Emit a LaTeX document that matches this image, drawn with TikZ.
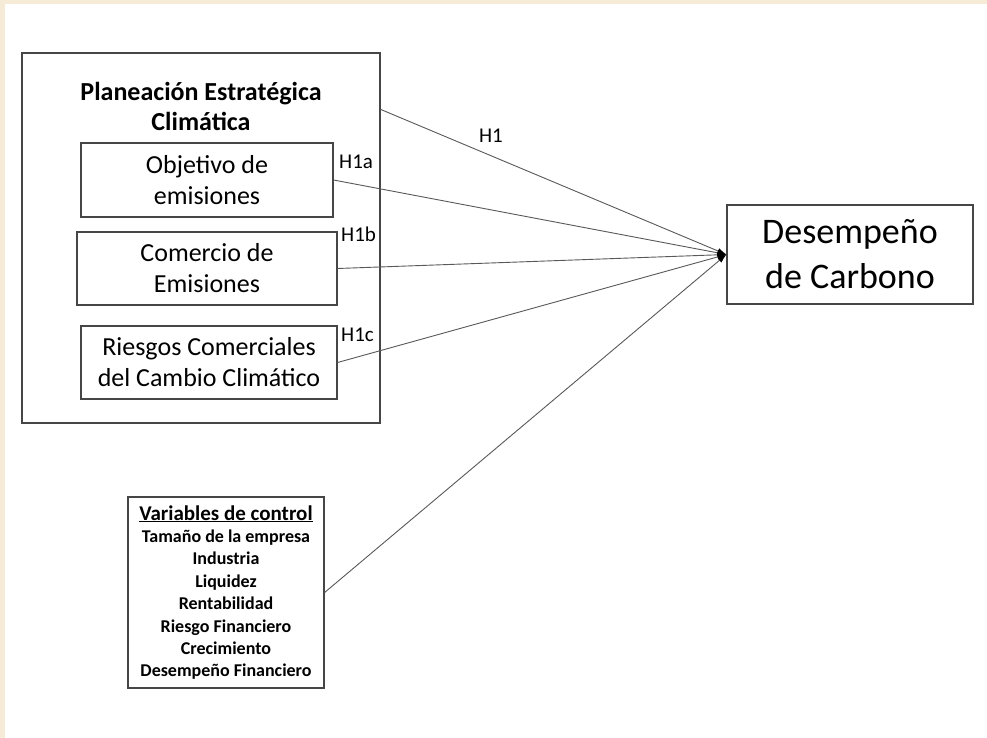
\documentclass[tikz,border=0pt]{standalone}
\usepackage{fontspec}
\setmainfont{Carlito}
\usetikzlibrary{positioning,arrows.meta,calc}
\definecolor{cream}{RGB}{245,235,215}
\definecolor{boxgray}{RGB}{70,70,70}

\begin{document}
\begin{tikzpicture}[x=1pt,y=-1pt,
    box/.style={draw=boxgray, line width=1.2pt, inner sep=0pt, align=center},
    link/.style={draw=black!65, line width=0.9pt, -{Latex[length=9pt,width=6pt,color=black]}},
    hyp/.style={font=\fontsize{21}{24}\selectfont, inner sep=0pt}]

    % Background
    \fill[cream] (0,0) rectangle (987,738);
    \fill[white] (5,4) rectangle (987,738);
    \useasboundingbox (0,0) rectangle (987,738);

    % Planning block
    \node[box, minimum width=358pt, minimum height=370pt] (plan) at (201,238) {};
    \node[font=\bfseries\fontsize{26}{30}\selectfont, align=center, inner sep=0pt] (title) at (201,106) {Planeación Estratégica\\Climática};
    \node[box, minimum width=252pt, minimum height=74pt, font=\fontsize{26}{31}\selectfont] (obj) at (207,180) {Objetivo de\\emisiones};
    \node[box, minimum width=260pt, minimum height=73pt, font=\fontsize{26}{31}\selectfont] (com) at (207,268.5) {Comercio de\\Emisiones};
    \node[box, minimum width=256pt, minimum height=73pt, font=\fontsize{26}{31}\selectfont] (risk) at (209,362.5) {Riesgos Comerciales\\del Cambio Climático};
    \coordinate (planout) at ($(plan.north east)+(0,57)$);

    % Outcome
    \node[box, minimum width=246pt, minimum height=99pt, font=\fontsize{36}{45}\selectfont] (dc) at (850,254.5) {Desempeño\\de Carbono};

    % Control variables
    \node[box, minimum width=196pt, minimum height=191pt, font=\bfseries\fontsize{18}{22.4}\selectfont] (ctrl) at (226,592.5)
        {{\fontsize{21}{22.4}\selectfont\underline{Variables de control}}\\Tamaño de la empresa\\Industria\\Liquidez\\Rentabilidad\\Riesgo Financiero\\Crecimiento\\Desempeño Financiero};

    % Hypothesis labels
    \node[hyp] (h1) at (491,136) {H1};
    \node[hyp, anchor=west] (h1a) at (339,162) {H1a};
    \node[hyp, anchor=west] (h1b) at (341,234) {H1b};
    \node[hyp, anchor=west] (h1c) at (341,335) {H1c};

    % Paths
    \foreach \src in {planout, obj.east, com.east, risk.east, ctrl.east}
        \draw[link] (\src) -- (dc.west);

\end{tikzpicture}
\end{document}
